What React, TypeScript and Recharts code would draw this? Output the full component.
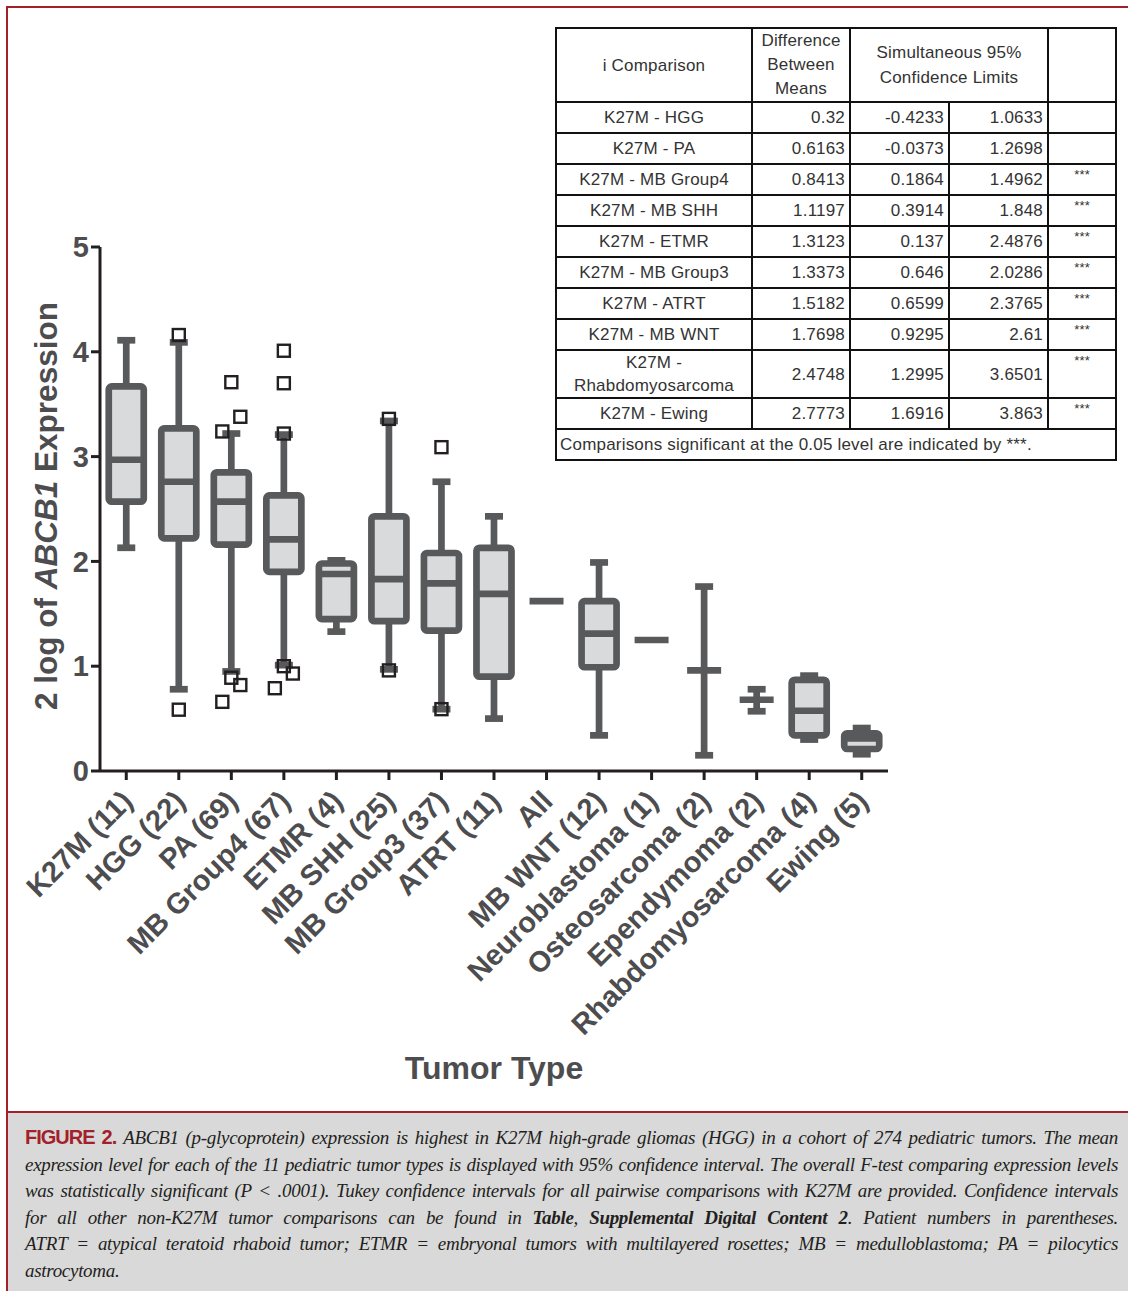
import React from 'react';
import { ComposedChart, Bar, XAxis, YAxis, Label } from 'recharts';

const SANS = '"Liberation Sans", Arial, Helvetica, sans-serif';
const SERIF = '"Liberation Serif", "Times New Roman", serif';
const INK = '#4d4d4f';
const BOX_STROKE = '#58595b';
const BOX_FILL = '#d9dadb';
const AXIS = '#231f20';
const FRAME_RED = '#a31f2a';

// tumour groups along the x axis
const categories = [
  'K27M (11)',
  'HGG (22)',
  'PA (69)',
  'MB Group4 (67)',
  'ETMR (4)',
  'MB SHH (25)',
  'MB Group3 (37)',
  'ATRT (11)',
  'All',
  'MB WNT (12)',
  'Neuroblastoma (1)',
  'Osteosarcoma (2)',
  'Ependymoma (2)',
  'Rhabdomyosarcoma (4)',
  'Ewing (5)',
];

// box & whisker summaries, null where the group has no such mark
const whiskerLow = [2.13, 0.78, 0.95, 1.01, 1.33, 0.97, 0.59, 0.5, null, 0.34, null, 0.15, 0.57, 0.3, 0.16];
const quartile1 = [2.57, 2.22, 2.16, 1.9, 1.45, 1.43, 1.34, 0.9, null, 0.99, null, null, null, 0.34, 0.21];
const middle = [2.97, 2.76, 2.57, 2.21, 1.88, 1.83, 1.79, 1.69, 1.62, 1.31, 1.25, 0.96, 0.68, 0.575, 0.31];
const quartile3 = [3.67, 3.27, 2.85, 2.63, 1.98, 2.43, 2.08, 2.13, null, 1.62, null, null, null, 0.87, 0.36];
const whiskerHigh = [4.11, 4.09, 3.22, 3.21, 2.01, 3.34, 2.76, 2.43, null, 1.99, null, 1.76, 0.78, 0.91, 0.41];

// outlying samples; lane = column-scatter side (-1 left, 0 centre, 1 right)
const outliers = [
  { cat: 'HGG (22)', value: 4.16, lane: 0 },
  { cat: 'HGG (22)', value: 0.585, lane: 0 },
  { cat: 'PA (69)', value: 3.71, lane: 0 },
  { cat: 'PA (69)', value: 3.38, lane: 1 },
  { cat: 'PA (69)', value: 3.24, lane: -1 },
  { cat: 'PA (69)', value: 0.89, lane: 0 },
  { cat: 'PA (69)', value: 0.82, lane: 1 },
  { cat: 'PA (69)', value: 0.66, lane: -1 },
  { cat: 'MB Group4 (67)', value: 4.01, lane: 0 },
  { cat: 'MB Group4 (67)', value: 3.7, lane: 0 },
  { cat: 'MB Group4 (67)', value: 3.22, lane: 0 },
  { cat: 'MB Group4 (67)', value: 1.0, lane: 0 },
  { cat: 'MB Group4 (67)', value: 0.93, lane: 1 },
  { cat: 'MB Group4 (67)', value: 0.79, lane: -1 },
  { cat: 'MB SHH (25)', value: 3.36, lane: 0 },
  { cat: 'MB SHH (25)', value: 0.96, lane: 0 },
  { cat: 'MB Group3 (37)', value: 3.09, lane: 0 },
  { cat: 'MB Group3 (37)', value: 0.59, lane: 0 },
];

const yTicks = [0, 1, 2, 3, 4, 5];

// Tukey comparison table
const comparisons = [
  'K27M - HGG',
  'K27M - PA',
  'K27M - MB Group4',
  'K27M - MB SHH',
  'K27M - ETMR',
  'K27M - MB Group3',
  'K27M - ATRT',
  'K27M - MB WNT',
  'K27M - Rhabdomyosarcoma',
  'K27M - Ewing',
];
const meanDifference = ['0.32', '0.6163', '0.8413', '1.1197', '1.3123', '1.3373', '1.5182', '1.7698', '2.4748', '2.7773'];
const lowerLimit = ['-0.4233', '-0.0373', '0.1864', '0.3914', '0.137', '0.646', '0.6599', '0.9295', '1.2995', '1.6916'];
const upperLimit = ['1.0633', '1.2698', '1.4962', '1.848', '2.4876', '2.0286', '2.3765', '2.61', '3.6501', '3.863'];
const significant = [false, false, true, true, true, true, true, true, true, true];

const captionLines: { text: string; bold?: boolean }[][] = [
  [{ text: 'ABCB1 (p-glycoprotein) expression is highest in K27M high-grade gliomas (HGG) in a cohort of 274 pediatric tumors. The mean' }],
  [{ text: 'expression level for each of the 11 pediatric tumor types is displayed with 95% confidence interval. The overall F-test comparing expression levels' }],
  [{ text: 'was statistically significant (P < .0001). Tukey confidence intervals for all pairwise comparisons with K27M are provided. Confidence intervals' }],
  [
    { text: 'for all other non-K27M tumor comparisons can be found in ' },
    { text: 'Table', bold: true },
    { text: ', ' },
    { text: 'Supplemental Digital Content 2', bold: true },
    { text: '. Patient numbers in parentheses.' },
  ],
  [{ text: 'ATRT = atypical teratoid rhaboid tumor; ETMR = embryonal tumors with multilayered rosettes; MB = medulloblastoma; PA = pilocytics' }],
  [{ text: 'astrocytoma.' }],
];

const rows = categories.map((cat, i) => ({
  cat,
  lo: whiskerLow[i],
  q1: quartile1[i],
  mid: middle[i],
  q3: quartile3[i],
  hi: whiskerHigh[i],
  top: whiskerHigh[i] ?? middle[i],
  out: outliers.filter((o) => o.cat === cat),
}));

// draws one group; the bar rect spans 0..top so it gives us the y scale
function BoxWhisker(props: any) {
  const { x, y, width, height, payload } = props;
  if (!payload || !height) return null;
  const base = y + height;
  const perUnit = height / payload.top;
  const py = (v: number) => base - v * perUnit;
  const cx = x + width / 2;
  const sw = 6.7;
  const capHalf = 9;
  const boxHalf = 17.5;
  const parts: React.ReactNode[] = [];

  if (payload.lo != null) {
    parts.push(
      <line key="w" x1={cx} x2={cx} y1={py(payload.lo)} y2={py(payload.hi)} stroke={BOX_STROKE} strokeWidth={sw} />,
      <line key="c1" x1={cx - capHalf} x2={cx + capHalf} y1={py(payload.lo)} y2={py(payload.lo)} stroke={BOX_STROKE} strokeWidth={sw} />,
      <line key="c2" x1={cx - capHalf} x2={cx + capHalf} y1={py(payload.hi)} y2={py(payload.hi)} stroke={BOX_STROKE} strokeWidth={sw} />
    );
  }
  if (payload.q1 != null) {
    parts.push(
      <rect
        key="b"
        x={cx - boxHalf}
        y={py(payload.q3)}
        width={boxHalf * 2}
        height={py(payload.q1) - py(payload.q3)}
        rx={3}
        fill={BOX_FILL}
        stroke={BOX_STROKE}
        strokeWidth={sw}
      />,
      <line key="m" x1={cx - boxHalf} x2={cx + boxHalf} y1={py(payload.mid)} y2={py(payload.mid)} stroke={BOX_STROKE} strokeWidth={sw} />
    );
  } else {
    parts.push(
      <line key="m" x1={cx - 17} x2={cx + 17} y1={py(payload.mid)} y2={py(payload.mid)} stroke={BOX_STROKE} strokeWidth={sw} />
    );
  }
  payload.out.forEach((o: any, k: number) => {
    const ox = cx + o.lane * 9;
    parts.push(
      <rect key={`o${k}`} x={ox - 6} y={py(o.value) - 6} width={12} height={12} fill="none" stroke={AXIS} strokeWidth={2.4} />
    );
  });
  return <g>{parts}</g>;
}

function CategoryTick(props: any) {
  const { x, y, payload } = props;
  const ax = x + 8;
  const ay = y + 21;
  return (
    <text
      x={ax}
      y={ay}
      transform={`rotate(-45 ${ax} ${ay})`}
      textAnchor="end"
      fontSize={29}
      fontWeight="bold"
      fontFamily={SANS}
      fill={INK}
    >
      {payload.value}
    </text>
  );
}

function ComparisonTable() {
  const cell: React.CSSProperties = {
    border: '2px solid #111',
    padding: '0 4px',
    fontSize: 17,
    lineHeight: '23px',
    color: '#333',
    fontFamily: SANS,
    letterSpacing: 0.2,
  };
  return (
    <table
      style={{
        position: 'absolute',
        left: 555,
        top: 27,
        width: 560,
        borderCollapse: 'collapse',
        tableLayout: 'fixed',
        background: '#fff',
      }}
    >
      <colgroup>
        <col style={{ width: 196 }} />
        <col style={{ width: 98 }} />
        <col style={{ width: 99 }} />
        <col style={{ width: 99 }} />
        <col style={{ width: 68 }} />
      </colgroup>
      <tbody>
        <tr style={{ height: 73 }}>
          <td style={{ ...cell, textAlign: 'center' }}>i Comparison</td>
          <td style={{ ...cell, textAlign: 'center', lineHeight: '24px' }}>
            Difference
            <br />
            Between
            <br />
            Means
          </td>
          <td colSpan={2} style={{ ...cell, textAlign: 'center', lineHeight: '25px' }}>
            Simultaneous 95%
            <br />
            Confidence Limits
          </td>
          <td style={cell} />
        </tr>
        {comparisons.map((c, i) => (
          <tr key={c} style={{ height: 31 }}>
            <td style={{ ...cell, textAlign: 'center' }}>{c}</td>
            <td style={{ ...cell, textAlign: 'right' }}>{meanDifference[i]}</td>
            <td style={{ ...cell, textAlign: 'right' }}>{lowerLimit[i]}</td>
            <td style={{ ...cell, textAlign: 'right' }}>{upperLimit[i]}</td>
            <td style={{ ...cell, textAlign: 'center', verticalAlign: 'top', fontSize: 13, lineHeight: '20px' }}>
              {significant[i] ? '***' : ''}
            </td>
          </tr>
        ))}
        <tr style={{ height: 31 }}>
          <td colSpan={5} style={{ ...cell, textAlign: 'left', padding: '0 3px' }}>
            Comparisons significant at the 0.05 level are indicated by ***.
          </td>
        </tr>
      </tbody>
    </table>
  );
}

function Caption() {
  return (
    <div
      style={{
        position: 'absolute',
        left: 8,
        top: 1111,
        width: 1120,
        height: 180,
        background: '#d9d9d9',
        borderTop: `2px solid ${FRAME_RED}`,
        boxSizing: 'border-box',
        padding: '11px 10px 0 17px',
        fontFamily: SERIF,
        fontStyle: 'italic',
        fontSize: 19,
        lineHeight: '26.6px',
        letterSpacing: -0.3,
        color: '#231f20',
      }}
    >
      {captionLines.map((line, i) => (
        <div
          key={i}
          style={{
            whiteSpace: 'nowrap',
            textAlign: 'justify',
            textAlignLast: i === captionLines.length - 1 ? 'left' : 'justify',
          }}
        >
          {i === 0 && (
            <span
              style={{
                fontFamily: SANS,
                fontStyle: 'normal',
                fontWeight: 'bold',
                color: FRAME_RED,
                letterSpacing: -1,
                fontSize: 20,
              }}
            >
              FIGURE 2.{'  '}
            </span>
          )}
          {line.map((seg, k) => (
            <span key={k} style={{ fontWeight: seg.bold ? 'bold' : 'normal' }}>
              {seg.text}
            </span>
          ))}
        </div>
      ))}
    </div>
  );
}

export default function App() {
  return (
    <div
      style={{
        position: 'absolute',
        left: 0,
        top: 0,
        width: 1128,
        height: 1291,
        overflow: 'hidden',
        background: '#fff',
      }}
    >
      <div
        style={{
          position: 'absolute',
          left: 6,
          top: 6,
          right: 0,
          bottom: 0,
          borderTop: `2px solid ${FRAME_RED}`,
          borderLeft: `2px solid ${FRAME_RED}`,
        }}
      />
      <div style={{ position: 'absolute', left: 0, top: 0 }}>
        <ComposedChart
          width={1128}
          height={1100}
          data={rows}
          margin={{ top: 247, right: 240, bottom: 19, left: 0 }}
        >
          <XAxis
            dataKey="cat"
            type="category"
            interval={0}
            height={310}
            tickSize={9}
            tick={<CategoryTick />}
            axisLine={{ stroke: AXIS, strokeWidth: 3 }}
            tickLine={{ stroke: AXIS, strokeWidth: 3 }}
          >
            <Label
              content={(p: any) => {
                const vb = p.viewBox || { x: 100, y: 771, width: 788, height: 310 };
                return (
                  <text
                    x={vb.x + vb.width / 2}
                    y={vb.y + 308}
                    textAnchor="middle"
                    fontSize={32}
                    fontWeight="bold"
                    fontFamily={SANS}
                    fill={INK}
                  >
                    Tumor Type
                  </text>
                );
              }}
            />
          </XAxis>
          <YAxis
            type="number"
            domain={[0, 5]}
            ticks={yTicks}
            width={100}
            tickSize={9}
            tick={{ fill: INK, fontSize: 29, fontWeight: 'bold', fontFamily: SANS }}
            axisLine={{ stroke: AXIS, strokeWidth: 3 }}
            tickLine={{ stroke: AXIS, strokeWidth: 3 }}
          >
            <Label
              content={(p: any) => {
                const vb = p.viewBox || { x: 0, y: 247, width: 100, height: 524 };
                const lx = vb.x + 57;
                const ly = vb.y + vb.height / 2 - 3;
                return (
                  <text
                    x={lx}
                    y={ly}
                    transform={`rotate(-90 ${lx} ${ly})`}
                    textAnchor="middle"
                    fontSize={31.5}
                    fontWeight="bold"
                    fontFamily={SANS}
                    fill={INK}
                  >
                    <tspan>2 log of </tspan>
                    <tspan fontStyle="italic">ABCB1</tspan>
                    <tspan> Expression</tspan>
                  </text>
                );
              }}
            />
          </YAxis>
          <Bar dataKey="top" isAnimationActive={false} shape={(p: any) => <BoxWhisker {...p} />} />
        </ComposedChart>
      </div>
      <ComparisonTable />
      <Caption />
    </div>
  );
}
